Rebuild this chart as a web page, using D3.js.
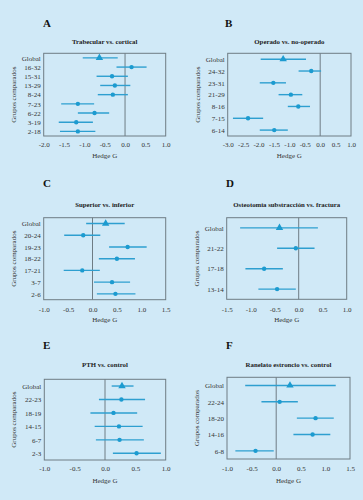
<!DOCTYPE html>
<html><head><meta charset="utf-8">
<script src="https://cdn.jsdelivr.net/npm/d3@7"></script>
<style>
html,body{margin:0;padding:0;background:#d0e9f7;}
svg{display:block;}
</style></head>
<body>
<svg id="c" width="363" height="500"></svg>
<script>
// ---- DATA ----
const catsA = ["Global","16-32","15-31","13-29","8-24","7-23","6-22","3-19","2-18"];
const estA  = [-0.63, 0.16, -0.32, -0.25, -0.30, -1.16, -0.75, -1.20, -1.16];
const lowA  = [-1.04, -0.21, -0.70, -0.61, -0.67, -1.57, -1.16, -1.63, -1.60];
const highA = [-0.18, 0.53, 0.07, 0.13, 0.07, -0.76, -0.39, -0.79, -0.73];
const ticksA = [-2.0,-1.5,-1.0,-0.5,0.0,0.5,1.0];

const catsB = ["Global","24-32","23-31","21-29","8-16","7-15","6-14"];
const estB  = [-1.20, -0.29, -1.52, -0.95, -0.71, -2.34, -1.49];
const lowB  = [-1.93, -0.70, -1.96, -1.35, -1.05, -2.83, -1.96];
const highB = [-0.46, 0.03, -1.11, -0.58, -0.33, -1.85, -1.05];
const ticksB = [-3.0,-2.5,-2.0,-1.5,-1.0,-0.5,0.0,0.5,1.0];

const catsC = ["Global","20-24","19-23","18-22","17-21","3-7","2-6"];
const estC  = [0.27, -0.19, 0.72, 0.50, -0.21, 0.40, 0.47];
const lowC  = [-0.13, -0.58, 0.34, 0.13, -0.59, 0.03, 0.09];
const highC = [0.66, 0.16, 1.11, 0.87, 0.15, 0.77, 0.88];
const ticksC = [-1.0,-0.5,0.0,0.5,1.0,1.5];

const catsD = ["Global","21-22","17-18","13-14"];
const estD  = [-0.40, -0.06, -0.72, -0.45];
const lowD  = [-1.22, -0.45, -1.11, -0.84];
const highD = [0.40, 0.33, -0.33, -0.06];
const ticksD = [-1.5,-1.0,-0.5,0.0,0.5,1.0];

const catsE = ["Global","22-23","18-19","14-15","6-7","2-3"];
const estE  = [0.28, 0.27, 0.14, 0.23, 0.24, 0.52];
const lowE  = [0.11, -0.10, -0.24, -0.17, -0.15, 0.13];
const highE = [0.47, 0.66, 0.53, 0.62, 0.64, 0.92];
const ticksE = [-1.0,-0.5,0.0,0.5,1.0];

const catsF = ["Global","22-24","18-20","14-16","6-8"];
const estF  = [0.28, 0.07, 0.80, 0.74, -0.42];
const lowF  = [-0.63, -0.30, 0.42, 0.35, -0.83];
const highF = [1.21, 0.44, 1.17, 1.10, -0.05];
const ticksF = [-1.0,-0.5,0.0,0.5,1.0,1.5];

const letters = ["A","B","C","D","E","F"];
const titles = ["Trabecular vs. cortical","Operado vs. no-operado","Superior vs. inferior",
  "Osteotomía substracción vs. fractura","PTH vs. control","Ranelato estroncio vs. control"];
const yTitle = "Grupos comparados";
const xTitle = "Hedge G";

// ---- LAYOUT ----
const panels = [
  {cats:catsA, est:estA, low:lowA, high:highA, ticks:ticksA, box:[43.7,53.3,165.7,136], letter:[43,27], titleY:43.5, tickY:148.5, xtY:157.5},
  {cats:catsB, est:estB, low:lowB, high:highB, ticks:ticksB, box:[227.7,53.3,351,136], letter:[225,27], titleY:43.5, tickY:148.5, xtY:157.5},
  {cats:catsC, est:estC, low:lowC, high:highC, ticks:ticksC, box:[43.7,217.7,165.7,299.7], letter:[43,187], titleY:206.5, tickY:313, xtY:322},
  {cats:catsD, est:estD, low:lowD, high:highD, ticks:ticksD, box:[226.7,217.7,346.7,299.3], letter:[226,187], titleY:206.5, tickY:313, xtY:322},
  {cats:catsE, est:estE, low:lowE, high:highE, ticks:ticksE, box:[44.3,379.3,165.7,460], letter:[43,349], titleY:366.5, tickY:472, xtY:482.5},
  {cats:catsF, est:estF, low:lowF, high:highF, ticks:ticksF, box:[227,377.3,350,459], letter:[226,349], titleY:366.5, tickY:472, xtY:482.5}
];

const svg = d3.select("#c");
svg.append("rect").attr("width",363).attr("height",500).attr("fill","#d0e9f7");
const serif = "'Liberation Serif','DejaVu Serif',serif";
const boxCol = "#6e7c84";
const lineCol = "#2e9fd0";
const markCol = "#1c9bd0";

panels.forEach((p,i)=>{
  const [x0,y0,x1,y1] = p.box;
  const ticks = p.ticks;
  const x = d3.scaleLinear().domain([ticks[0], ticks[ticks.length-1]]).range([x0,x1]);
  const y = d3.scalePoint().domain(p.cats).range([y0,y1]).padding(0.5);
  const g = svg.append("g");

  // letter
  g.append("text").attr("x",p.letter[0]).attr("y",p.letter[1]).text(letters[i])
    .attr("font-family",serif).attr("font-weight","bold").attr("font-size",11).attr("fill","#111");
  // title
  g.append("text").attr("x",(x0+x1)/2).attr("y",p.titleY).attr("text-anchor","middle").text(titles[i])
    .attr("font-family",serif).attr("font-weight","bold").attr("font-size",6.8).attr("fill","#222");

  // box
  g.append("rect").attr("x",x0).attr("y",y0).attr("width",x1-x0).attr("height",y1-y0)
    .attr("fill","none").attr("stroke",boxCol).attr("stroke-width",1);
  // zero line
  g.append("line").attr("x1",x(0)).attr("x2",x(0)).attr("y1",y0).attr("y2",y1)
    .attr("stroke",boxCol).attr("stroke-width",1);

  // x axis
  const xa = g.append("g").attr("transform",`translate(0,${p.tickY-6})`)
    .call(d3.axisBottom(x).tickValues(ticks).tickSize(0).tickPadding(0)
      .tickFormat(v=>d3.format(".1f")(v).replace("−","-")));
  xa.select(".domain").remove();
  xa.selectAll("text").attr("font-family",serif).attr("font-size",7).attr("fill","#333");
  g.append("text").attr("x",(x0+x1)/2).attr("y",p.xtY).attr("text-anchor","middle").text(xTitle)
    .attr("font-family",serif).attr("font-size",7).attr("fill","#333");

  // y axis
  const ya = g.append("g").attr("transform",`translate(${x0-3},0)`)
    .call(d3.axisLeft(y).tickSize(0).tickPadding(0));
  ya.select(".domain").remove();
  ya.selectAll("text").attr("font-family",serif).attr("font-size",7).attr("fill","#333");
  g.append("text").attr("transform",`translate(${x0-28},${(y0+y1)/2}) rotate(-90)`)
    .attr("text-anchor","middle").text(yTitle)
    .attr("font-family",serif).attr("font-size",7).attr("fill","#333");

  // CI lines
  const rows = p.cats.map((c,j)=>({c, e:p.est[j], l:p.low[j], h:p.high[j]}));
  g.selectAll(".ci").data(rows).enter().append("line")
    .attr("x1",d=>x(d.l)).attr("x2",d=>x(d.h)).attr("y1",d=>y(d.c)).attr("y2",d=>y(d.c))
    .attr("stroke",lineCol).attr("stroke-width",1.4);
  // markers
  g.selectAll(".pt").data(rows).enter().append("path")
    .attr("transform",d=>`translate(${x(d.e)},${y(d.c)})`)
    .attr("d",d=> d.c==="Global"
      ? d3.symbol().type(d3.symbolTriangle).size(24)()
      : d3.symbol().type(d3.symbolCircle).size(15)())
    .attr("fill",markCol);
});
</script>
</body></html>
